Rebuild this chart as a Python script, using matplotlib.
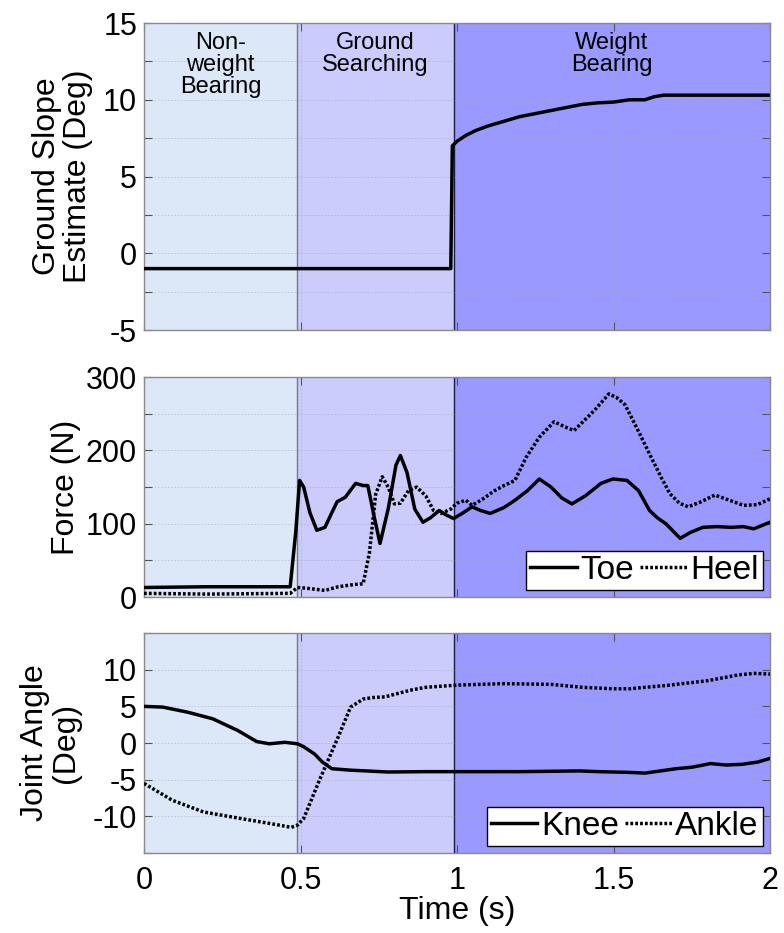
import numpy as np
import matplotlib
matplotlib.use("Agg")
import matplotlib.pyplot as plt
from matplotlib.ticker import MultipleLocator

plt.rcParams['font.family'] = ['Liberation Sans', 'DejaVu Sans']
plt.rcParams['axes.unicode_minus'] = False

# phase boundaries (s) and colours
phase_edges = [0, 0.49, 0.99, 2.0]
phase_colors = ['#dce8f8', '#ccccfc', '#9999ff']
phase_names = ['Non-\nweight\nBearing', 'Ground\nSearching', 'Weight\nBearing']

# ground slope estimate (deg)
t_slope = [0.0, 0.98, 0.985, 1.0, 1.03, 1.06, 1.1, 1.15, 1.2, 1.25, 1.3, 1.35,
           1.4, 1.45, 1.5, 1.55, 1.6, 1.63, 1.66, 1.7, 2.0]
slope = [-1.0, -1.0, 7.0, 7.3, 7.7, 8.0, 8.3, 8.6, 8.9, 9.1, 9.3, 9.5,
         9.7, 9.8, 9.85, 10.0, 10.0, 10.2, 10.3, 10.3, 10.3]

# force (N)
t_toe = [0.0, 0.2, 0.467, 0.485, 0.497, 0.51, 0.53, 0.552, 0.578, 0.6, 0.617, 0.643,
         0.676, 0.7, 0.715, 0.735, 0.754, 0.78, 0.805, 0.819, 0.84, 0.865, 0.891,
         0.915, 0.943, 0.965, 0.989, 1.02, 1.048, 1.075, 1.106, 1.15, 1.185, 1.225,
         1.263, 1.3, 1.335, 1.367, 1.41, 1.46, 1.498, 1.543, 1.58, 1.615, 1.64,
         1.667, 1.69, 1.713, 1.745, 1.785, 1.83, 1.876, 1.915, 1.948, 2.0]
toe = [13, 14, 14, 90, 159, 150, 115, 91, 95, 115, 130, 136,
       155, 152, 152, 110, 73, 120, 180, 193, 170, 120, 102,
       108, 118, 112, 107, 115, 123, 118, 114, 122, 132, 145,
       161, 150, 135, 127, 138, 155, 161, 159, 145, 118, 108,
       100, 90, 80, 88, 95, 96, 95, 96, 93, 102]
t_heel = [0.0, 0.2, 0.467, 0.49, 0.52, 0.578, 0.62, 0.67, 0.7, 0.72, 0.74,
          0.761, 0.78, 0.8, 0.819, 0.845, 0.871, 0.9, 0.925, 0.95, 0.98, 1.0,
          1.028, 1.048, 1.08, 1.12, 1.15, 1.185, 1.22, 1.263, 1.31, 1.345, 1.374,
          1.4, 1.44, 1.485, 1.51, 1.537, 1.575, 1.615, 1.65, 1.68, 1.71, 1.739,
          1.78, 1.824, 1.87, 1.915, 1.96, 2.0]
heel = [5, 4, 5, 13, 12, 9, 14, 17, 18, 60, 140,
        164, 150, 127, 128, 145, 150, 138, 118, 114, 120, 128,
        132, 125, 133, 145, 152, 159, 190, 218, 239, 232, 227,
        238, 255, 277, 272, 262, 230, 195, 165, 141, 128, 123,
        130, 139, 132, 125, 126, 134]

# joint angles (deg)
t_knee = [0.0, 0.06, 0.14, 0.22, 0.3, 0.36, 0.4, 0.45, 0.49, 0.51, 0.545, 0.57,
          0.6, 0.66, 0.78, 0.9, 1.0, 1.1, 1.2, 1.3, 1.39, 1.45, 1.55, 1.6,
          1.65, 1.7, 1.75, 1.81, 1.86, 1.91, 1.96, 2.0]
knee = [5.0, 4.9, 4.2, 3.3, 1.7, 0.2, -0.1, 0.1, -0.1, -0.5, -1.5, -2.6,
        -3.5, -3.7, -3.95, -3.9, -3.9, -3.9, -3.9, -3.85, -3.8, -3.9, -4.0, -4.1,
        -3.8, -3.5, -3.3, -2.8, -3.0, -2.9, -2.6, -2.1]
t_ankle = [0.0, 0.09, 0.19, 0.31, 0.42, 0.47, 0.49, 0.51, 0.56, 0.62, 0.66,
           0.7, 0.73, 0.77, 0.85, 0.9, 1.0, 1.15, 1.3, 1.4, 1.5, 1.55, 1.68,
           1.8, 1.9, 1.95, 2.0]
ankle = [-5.5, -7.8, -9.4, -10.3, -11.1, -11.5, -11.2, -10.3, -5.1, 0.8, 4.9,
         6.0, 6.2, 6.3, 7.2, 7.6, 7.9, 8.1, 8.0, 7.6, 7.4, 7.4, 7.9,
         8.5, 9.3, 9.5, 9.4]


def shade(ax):
    for i in range(3):
        ax.axvspan(phase_edges[i], phase_edges[i + 1], color=phase_colors[i],
                   lw=0, zorder=0)
    ax.axvline(phase_edges[1], color='#6f7b90', lw=1.0, zorder=1)
    ax.axvline(phase_edges[2], color='#1a1a40', lw=1.0, zorder=1)


def style(ax, ymin, ymax, major, minor):
    ax.set_xlim(0, 2)
    ax.set_ylim(ymin, ymax)
    ax.xaxis.set_major_locator(MultipleLocator(0.5))
    ax.yaxis.set_major_locator(MultipleLocator(major))
    ax.yaxis.set_minor_locator(MultipleLocator(minor))
    ax.grid(True, which='both', color='#9aa0b0', lw=0.6, ls=(0, (2, 2)), alpha=0.5)
    ax.tick_params(direction='in', top=True, right=True, labelsize=22, length=6,
                   width=0.8, color='#555555', pad=5)
    ax.tick_params(axis='x', pad=9)
    ax.tick_params(which='minor', direction='in', right=True, length=6,
                   width=0.8, color='#555555')
    for s in ax.spines.values():
        s.set_color('#8a8a8a')
        s.set_linewidth(1.0)


fig = plt.figure(figsize=(7.84, 9.33), dpi=100)
ax1 = fig.add_axes([0.1837, 0.6463, 0.7985, 0.329])
ax2 = fig.add_axes([0.1837, 0.3601, 0.7985, 0.2358])
ax3 = fig.add_axes([0.1837, 0.0857, 0.7985, 0.2358])

dot = (0, (0.8, 0.6))
leg_kw = dict(loc='lower right', ncol=2, fontsize=24, handlelength=1.4,
              handletextpad=0.1, columnspacing=0.2, borderpad=0.12,
              borderaxespad=0.22, fancybox=False, framealpha=1,
              edgecolor='black')

# top: slope estimate
shade(ax1)
ax1.plot(t_slope, slope, color='black', lw=2.5, zorder=3)
style(ax1, -5, 15, 5, 2.5)
ax1.set_xticklabels([])
ax1.set_ylabel('Ground Slope\nEstimate (Deg)', fontsize=23, linespacing=1.05)
for i in range(3):
    ax1.text((phase_edges[i] + phase_edges[i + 1]) / 2, 14.4, phase_names[i],
             ha='center', va='top', fontsize=17, linespacing=1.0, zorder=4)

# middle: force
shade(ax2)
ax2.plot(t_toe, toe, color='black', lw=2.5, label='Toe', zorder=3)
ax2.plot(t_heel, heel, color='black', lw=2.5, ls=dot, label='Heel', zorder=3)
style(ax2, 0, 300, 100, 50)
ax2.set_xticklabels([])
ax2.set_ylabel('Force (N)', fontsize=23)
ax2.legend(**leg_kw).get_frame().set_linewidth(1.0)

# bottom: joint angles
shade(ax3)
ax3.plot(t_knee, knee, color='black', lw=2.5, label='Knee', zorder=3)
ax3.plot(t_ankle, ankle, color='black', lw=2.5, ls=dot, label='Ankle', zorder=3)
style(ax3, -15, 15, 5, 5)
ax3.set_yticks([-10, -5, 0, 5, 10])
ax3.set_xticks([0, 0.5, 1, 1.5, 2])
ax3.set_xticklabels(['0', '0.5', '1', '1.5', '2'])
ax3.set_ylabel('Joint Angle\n(Deg)', fontsize=23, linespacing=1.05)
ax3.set_xlabel('Time (s)', fontsize=23, labelpad=0)
ax3.legend(**leg_kw).get_frame().set_linewidth(1.0)

ax1.yaxis.set_label_coords(-0.082, 0.5)
ax2.yaxis.set_label_coords(-0.1, 0.5)
ax3.yaxis.set_label_coords(-0.1, 0.5)

fig.savefig('out.png', dpi=100)
